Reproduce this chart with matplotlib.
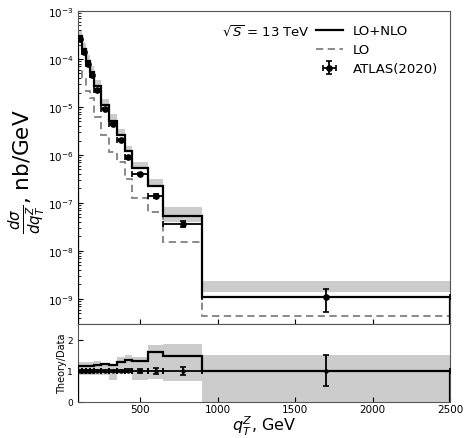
import numpy as np
import matplotlib
matplotlib.use("Agg")
import matplotlib.pyplot as plt

# q_T^Z bin edges (GeV)
edges = [100, 125, 150, 175, 200, 250, 300, 350, 400, 450, 550, 650, 900, 2500]

# ATLAS(2020) measured cross sections (nb/GeV) and relative uncertainties
data = [2.61e-4, 1.42e-4, 7.9e-5, 4.6e-5, 2.29e-5, 9.1e-6, 4.4e-6,
        2.05e-6, 8.9e-7, 4.0e-7, 1.42e-7, 3.65e-8, 1.08e-9]
data_rel_err = [0.03, 0.03, 0.03, 0.03, 0.03, 0.035, 0.04,
                0.04, 0.045, 0.06, 0.10, 0.13, 0.50]

# Theory predictions (nb/GeV)
lo_nlo = [2.98e-4, 1.62e-4, 9.1e-5, 5.3e-5, 2.75e-5, 1.12e-5, 5.2e-6,
          2.64e-6, 1.19e-6, 5.3e-7, 2.27e-7, 5.4e-8, 1.08e-9]
lo = [6.2e-5, 4.0e-5, 2.2e-5, 1.55e-5, 6.1e-6, 2.55e-6, 1.15e-6,
      7.2e-7, 3.16e-7, 1.26e-7, 6.6e-8, 1.56e-8, 4.5e-10]

# Uncertainty band of LO+NLO (nb/GeV)
band_lo = [2.98e-4, 1.62e-4, 9.1e-5, 5.3e-5, 2.75e-5, 1.12e-5, 5.2e-6,
           2.64e-6, 1.19e-6, 5.3e-7, 2.27e-7, 4.1e-8, 1.38e-9]
band_hi = [4.0e-4, 2.15e-4, 1.22e-4, 7.1e-5, 3.7e-5, 1.5e-5, 7.0e-6,
           3.55e-6, 1.56e-6, 7.0e-7, 3.1e-7, 8.1e-8, 2.4e-9]

# Ratio-panel band
ratio_band_lo = [0.86, 0.86, 0.86, 0.86, 0.86, 0.86, 0.72,
                 0.90, 0.92, 0.72, 0.73, 0.68, 0.0]
ratio_band_hi = [1.29, 1.29, 1.29, 1.29, 1.30, 1.25, 1.22,
                 1.45, 1.50, 1.45, 1.84, 1.86, 1.52]

edges_a = np.array(edges, dtype=float)
centers = 0.5 * (edges_a[1:] + edges_a[:-1])
half_w = 0.5 * (edges_a[1:] - edges_a[:-1])
data_a = np.array(data)
rel_a = np.array(data_rel_err)
ratio = np.array(lo_nlo) / data_a

W, H = 465, 439
fig = plt.figure(figsize=(W / 100, H / 100), dpi=100)
ax = fig.add_axes([78 / W, (H - 325) / H, 372 / W, 313 / H])
axr = fig.add_axes([78 / W, (H - 403) / H, 372 / W, 78 / H], sharex=ax)

band_color = "#cccccc"

# main panel
ax.stairs(band_hi, edges, baseline=band_lo, fill=True, color=band_color, lw=0, zorder=1)
ax.stairs(lo, edges, baseline=1e-12, color="#808080", ls=(0, (4, 2.5)), lw=1.3,
          zorder=2, label="LO")
ax.stairs(lo_nlo, edges, baseline=1e-12, color="black", lw=1.6, zorder=3,
          label="LO+NLO")
ax.errorbar(centers, data_a, xerr=half_w, yerr=data_a * rel_a, fmt="o", ms=3.8,
            color="black", elinewidth=1.3, capsize=2.2, capthick=1.2, zorder=4,
            label="ATLAS(2020)")

ax.set_yscale("log")
ax.set_xlim(100, 2500)
ax.set_ylim(3e-10, 1e-3)
ax.set_yticks([1e-3, 1e-4, 1e-5, 1e-6, 1e-7, 1e-8, 1e-9])
ax.tick_params(axis="both", which="both", direction="in", labelsize=7.5)
ax.tick_params(axis="x", labelbottom=False)
ax.set_ylabel(r"$\frac{d\sigma}{dq_T^Z}$, nb/GeV", fontsize=15.5)
ax.yaxis.set_label_coords(-0.08, 0.49)

ax.text(0.387, 0.935, r"$\sqrt{S}$ = 13 TeV", transform=ax.transAxes,
        fontsize=9.5, va="center", ha="left")

h, l = ax.get_legend_handles_labels()
order = [l.index("LO+NLO"), l.index("LO"), l.index("ATLAS(2020)")]
ax.legend([h[i] for i in order], [l[i] for i in order], loc="upper right",
          bbox_to_anchor=(1.0, 0.995), frameon=False, fontsize=9.5,
          handlelength=2.05, handletextpad=0.75, labelspacing=0.45)

# ratio panel
axr.stairs(ratio_band_hi, edges, baseline=ratio_band_lo, fill=True,
           color=band_color, lw=0, zorder=1)
axr.stairs(ratio, edges, baseline=0, color="black", lw=1.6, zorder=3)
axr.errorbar(centers, np.ones_like(centers), xerr=half_w, yerr=rel_a, fmt="o",
             ms=2.2, color="black", elinewidth=1.3, capsize=2, capthick=1.2,
             zorder=4)
axr.set_ylim(0, 2.5)
axr.set_yticks([0, 1, 2])
axr.set_xticks([500, 1000, 1500, 2000, 2500])
axr.tick_params(axis="both", which="both", direction="in")
axr.tick_params(axis="y", labelsize=6.5)
axr.tick_params(axis="x", labelsize=7.5, pad=1.5)
axr.set_ylabel("Theory/Data", fontsize=7)
axr.yaxis.set_label_coords(-0.03, 0.5)
axr.set_xlabel(r"$q_T^Z$, GeV", fontsize=11.5)
axr.xaxis.set_label_coords(0.5, -0.145)

for a in (ax, axr):
    for s in a.spines.values():
        s.set_linewidth(0.8)
        s.set_color("#555555")

fig.savefig("out.png", dpi=100)
